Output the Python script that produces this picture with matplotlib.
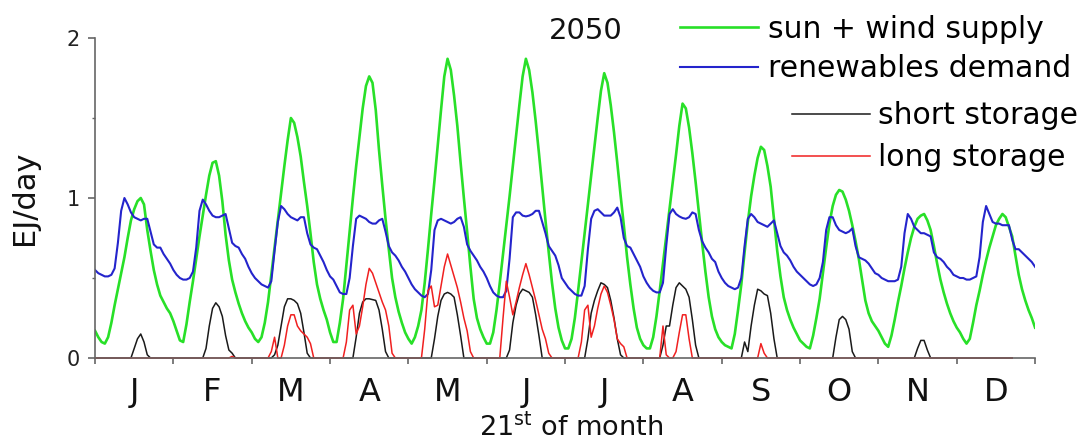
import numpy as np
import matplotlib.pyplot as plt

# 21st of each month, hourly values (EJ/day), 2050 scenario
months = ['J', 'F', 'M', 'A', 'M', 'J', 'J', 'A', 'S', 'O', 'N', 'D']

supply = [
    [0.17, 0.13, 0.10, 0.09, 0.13, 0.22, 0.33, 0.43, 0.53, 0.63, 0.75, 0.86, 0.93, 0.98, 1.00, 0.96, 0.80, 0.67, 0.55, 0.46, 0.39, 0.35, 0.31, 0.28],
    [0.23, 0.17, 0.11, 0.10, 0.21, 0.35, 0.48, 0.62, 0.76, 0.89, 1.02, 1.14, 1.22, 1.23, 1.14, 0.98, 0.77, 0.61, 0.49, 0.41, 0.34, 0.28, 0.23, 0.19],
    [0.16, 0.12, 0.10, 0.13, 0.22, 0.35, 0.52, 0.69, 0.86, 1.03, 1.20, 1.36, 1.50, 1.47, 1.38, 1.26, 1.10, 0.95, 0.78, 0.60, 0.46, 0.37, 0.30, 0.24],
    [0.16, 0.10, 0.10, 0.22, 0.37, 0.58, 0.79, 1.00, 1.20, 1.38, 1.56, 1.70, 1.76, 1.72, 1.55, 1.30, 1.08, 0.87, 0.68, 0.50, 0.38, 0.29, 0.22, 0.16],
    [0.12, 0.09, 0.13, 0.20, 0.30, 0.47, 0.68, 0.90, 1.11, 1.33, 1.55, 1.76, 1.87, 1.80, 1.64, 1.45, 1.22, 1.00, 0.79, 0.57, 0.37, 0.25, 0.18, 0.13],
    [0.09, 0.09, 0.16, 0.30, 0.47, 0.65, 0.83, 1.01, 1.20, 1.39, 1.58, 1.76, 1.87, 1.80, 1.66, 1.48, 1.28, 1.07, 0.86, 0.66, 0.47, 0.31, 0.19, 0.11],
    [0.06, 0.06, 0.12, 0.25, 0.42, 0.60, 0.78, 0.96, 1.14, 1.32, 1.50, 1.67, 1.78, 1.72, 1.58, 1.41, 1.22, 1.02, 0.83, 0.63, 0.46, 0.31, 0.19, 0.12],
    [0.08, 0.06, 0.06, 0.13, 0.26, 0.42, 0.59, 0.76, 0.93, 1.10, 1.27, 1.45, 1.59, 1.56, 1.44, 1.28, 1.10, 0.91, 0.72, 0.54, 0.38, 0.26, 0.18, 0.13],
    [0.10, 0.08, 0.07, 0.06, 0.15, 0.30, 0.46, 0.66, 0.85, 1.01, 1.14, 1.25, 1.32, 1.30, 1.20, 1.07, 0.87, 0.67, 0.51, 0.38, 0.30, 0.24, 0.19, 0.15],
    [0.11, 0.09, 0.07, 0.06, 0.14, 0.25, 0.37, 0.53, 0.69, 0.84, 0.95, 1.02, 1.05, 1.04, 0.99, 0.92, 0.83, 0.73, 0.62, 0.49, 0.36, 0.28, 0.23, 0.20],
    [0.17, 0.13, 0.09, 0.07, 0.14, 0.24, 0.35, 0.45, 0.56, 0.66, 0.75, 0.82, 0.87, 0.89, 0.90, 0.86, 0.80, 0.70, 0.59, 0.49, 0.41, 0.34, 0.28, 0.23],
    [0.19, 0.16, 0.12, 0.09, 0.12, 0.22, 0.33, 0.42, 0.52, 0.61, 0.69, 0.76, 0.83, 0.87, 0.90, 0.88, 0.82, 0.76, 0.64, 0.52, 0.43, 0.36, 0.30, 0.25],
]
supply_end = 0.19

demand = [
    [0.55, 0.53, 0.52, 0.51, 0.51, 0.52, 0.56, 0.72, 0.92, 1.00, 0.96, 0.91, 0.88, 0.87, 0.86, 0.87, 0.87, 0.79, 0.71, 0.69, 0.69, 0.65, 0.62, 0.59],
    [0.55, 0.52, 0.50, 0.49, 0.49, 0.50, 0.54, 0.69, 0.92, 0.99, 0.96, 0.92, 0.89, 0.88, 0.88, 0.89, 0.90, 0.81, 0.72, 0.70, 0.69, 0.65, 0.62, 0.57],
    [0.53, 0.50, 0.48, 0.46, 0.45, 0.44, 0.48, 0.67, 0.85, 0.95, 0.93, 0.90, 0.88, 0.87, 0.86, 0.88, 0.88, 0.78, 0.71, 0.69, 0.68, 0.64, 0.60, 0.55],
    [0.51, 0.49, 0.45, 0.41, 0.40, 0.40, 0.50, 0.70, 0.87, 0.89, 0.88, 0.87, 0.85, 0.84, 0.84, 0.86, 0.87, 0.79, 0.70, 0.66, 0.64, 0.61, 0.57, 0.54],
    [0.50, 0.46, 0.43, 0.41, 0.39, 0.38, 0.40, 0.55, 0.80, 0.86, 0.87, 0.86, 0.85, 0.84, 0.85, 0.87, 0.88, 0.82, 0.71, 0.67, 0.64, 0.61, 0.57, 0.54],
    [0.50, 0.45, 0.41, 0.39, 0.38, 0.38, 0.42, 0.62, 0.88, 0.91, 0.91, 0.89, 0.885, 0.89, 0.90, 0.92, 0.92, 0.85, 0.78, 0.70, 0.67, 0.64, 0.58, 0.50],
    [0.47, 0.44, 0.42, 0.40, 0.39, 0.39, 0.45, 0.68, 0.87, 0.92, 0.93, 0.91, 0.89, 0.89, 0.89, 0.91, 0.94, 0.88, 0.75, 0.70, 0.69, 0.65, 0.61, 0.57],
    [0.51, 0.47, 0.44, 0.42, 0.41, 0.41, 0.47, 0.70, 0.90, 0.93, 0.90, 0.885, 0.875, 0.87, 0.88, 0.91, 0.90, 0.80, 0.73, 0.69, 0.66, 0.62, 0.60, 0.54],
    [0.50, 0.47, 0.45, 0.44, 0.43, 0.44, 0.50, 0.70, 0.87, 0.90, 0.88, 0.85, 0.84, 0.83, 0.82, 0.84, 0.86, 0.78, 0.70, 0.66, 0.64, 0.61, 0.57, 0.54],
    [0.52, 0.50, 0.48, 0.46, 0.45, 0.46, 0.50, 0.60, 0.80, 0.88, 0.88, 0.83, 0.80, 0.79, 0.78, 0.79, 0.81, 0.70, 0.63, 0.62, 0.61, 0.59, 0.56, 0.53],
    [0.52, 0.50, 0.49, 0.48, 0.48, 0.48, 0.49, 0.57, 0.78, 0.90, 0.87, 0.82, 0.80, 0.78, 0.78, 0.77, 0.76, 0.66, 0.63, 0.62, 0.60, 0.57, 0.55, 0.52],
    [0.51, 0.50, 0.50, 0.49, 0.49, 0.50, 0.51, 0.63, 0.85, 0.95, 0.90, 0.85, 0.84, 0.84, 0.83, 0.83, 0.83, 0.74, 0.68, 0.68, 0.66, 0.64, 0.62, 0.60],
]
demand_end = 0.57

short_storage = [
    [0, 0, 0, 0, 0, 0, 0, 0, 0, 0, 0, 0, 0.06, 0.12, 0.15, 0.10, 0.02, 0, 0, 0, 0, 0, 0, 0],
    [0, 0, 0, 0, 0, 0, 0, 0, 0, 0, 0.06, 0.20, 0.31, 0.345, 0.32, 0.26, 0.14, 0.05, 0.03, 0, 0, 0, 0, 0],
    [0, 0, 0, 0, 0, 0, 0, 0.02, 0.08, 0.20, 0.32, 0.37, 0.37, 0.36, 0.34, 0.28, 0.16, 0.03, 0, 0, 0, 0, 0, 0],
    [0, 0, 0, 0, 0, 0, 0, 0, 0.13, 0.28, 0.35, 0.37, 0.37, 0.365, 0.36, 0.30, 0.18, 0.04, 0, 0, 0, 0, 0, 0],
    [0, 0, 0, 0, 0, 0, 0, 0, 0.12, 0.26, 0.36, 0.40, 0.41, 0.40, 0.38, 0.27, 0.14, 0, 0, 0, 0, 0, 0, 0],
    [0, 0, 0, 0, 0, 0, 0, 0.05, 0.22, 0.33, 0.40, 0.43, 0.42, 0.41, 0.38, 0.27, 0.14, 0, 0, 0, 0, 0, 0, 0],
    [0, 0, 0, 0, 0, 0, 0, 0.12, 0.28, 0.36, 0.42, 0.47, 0.46, 0.44, 0.36, 0.25, 0.12, 0.02, 0, 0, 0, 0, 0, 0],
    [0, 0, 0, 0, 0, 0, 0.08, 0.20, 0.20, 0.33, 0.44, 0.47, 0.45, 0.43, 0.38, 0.24, 0.08, 0, 0, 0, 0, 0, 0, 0],
    [0, 0, 0, 0, 0, 0, 0, 0.10, 0.04, 0.20, 0.33, 0.43, 0.42, 0.40, 0.39, 0.28, 0.12, 0, 0, 0, 0, 0, 0, 0],
    [0, 0, 0, 0, 0, 0, 0, 0, 0, 0, 0, 0.13, 0.24, 0.26, 0.24, 0.18, 0.04, 0, 0, 0, 0, 0, 0, 0],
    [0, 0, 0, 0, 0, 0, 0, 0, 0, 0, 0, 0, 0.06, 0.11, 0.11, 0.05, 0, 0, 0, 0, 0, 0, 0, 0],
    [0, 0, 0, 0, 0, 0, 0, 0, 0, 0, 0, 0, 0, 0, 0, 0, 0, 0, 0, 0, 0, 0, 0, 0],
]

long_storage = [
    [0, 0, 0, 0, 0, 0, 0, 0, 0, 0, 0, 0, 0, 0, 0, 0, 0, 0, 0, 0, 0, 0, 0, 0],
    [0, 0, 0, 0, 0, 0, 0, 0, 0, 0, 0, 0, 0, 0, 0, 0, 0, 0, 0.01, 0, 0, 0, 0, 0],
    [0, 0, 0, 0, 0, 0, 0.04, 0.13, 0, 0, 0.08, 0.20, 0.27, 0.27, 0.20, 0.17, 0.15, 0.13, 0.09, 0, 0, 0, 0, 0],
    [0, 0, 0, 0, 0, 0.10, 0.30, 0.33, 0.15, 0.20, 0.32, 0.46, 0.56, 0.53, 0.47, 0.41, 0.35, 0.30, 0.20, 0.03, 0, 0, 0, 0],
    [0, 0, 0, 0, 0, 0.18, 0.42, 0.45, 0.32, 0.33, 0.45, 0.57, 0.65, 0.58, 0.51, 0.44, 0.35, 0.25, 0.17, 0.04, 0, 0, 0, 0],
    [0, 0, 0, 0, 0, 0.25, 0.48, 0.38, 0.27, 0.35, 0.44, 0.52, 0.59, 0.52, 0.44, 0.36, 0.27, 0.18, 0.12, 0.03, 0, 0, 0, 0],
    [0, 0, 0, 0, 0, 0.10, 0.30, 0.33, 0.13, 0.20, 0.31, 0.40, 0.45, 0.41, 0.33, 0.24, 0.12, 0.09, 0.07, 0, 0, 0, 0, 0],
    [0, 0, 0, 0, 0, 0, 0.20, 0.02, 0, 0, 0.04, 0.16, 0.27, 0.27, 0.12, 0, 0, 0, 0, 0, 0, 0, 0, 0],
    [0, 0, 0, 0, 0, 0, 0, 0, 0, 0, 0, 0, 0.09, 0.03, 0, 0, 0, 0, 0, 0, 0, 0, 0, 0],
    [0, 0, 0, 0, 0, 0, 0, 0, 0, 0, 0, 0, 0, 0, 0, 0, 0, 0, 0, 0, 0, 0, 0, 0],
    [0, 0, 0, 0, 0, 0, 0, 0, 0, 0, 0, 0, 0, 0, 0, 0, 0, 0, 0, 0, 0, 0, 0, 0],
    [0, 0, 0, 0, 0, 0, 0, 0, 0, 0, 0, 0, 0, 0, 0, 0, 0, 0, 0, 0, 0, 0, 0, 0],
]
storage_last_hour = 17  # storage traces stop in the afternoon of 21 Dec

hours = 24
n_months = len(months)

# x in months: each month holds one day of hourly values
x_full = np.arange(n_months * hours + 1) / hours
supply_vals = np.append(np.concatenate(supply), supply_end)
demand_vals = np.append(np.concatenate(demand), demand_end)
n_store = (n_months - 1) * hours + storage_last_hour + 1
short_vals = np.concatenate(short_storage)[:n_store]
long_vals = np.concatenate(long_storage)[:n_store]

fig = plt.figure(figsize=(10.9, 4.45), dpi=100)
ax = fig.add_axes([0.0872, 0.1955, 0.8624, 0.7191])

green = '#28e028'
blue = '#2424cc'
red = '#f02020'
black = '#1a1a1a'
axis_grey = '#666666'

l_sup, = ax.plot(x_full, supply_vals, color=green, lw=1.9, label='sun + wind supply')
l_dem, = ax.plot(x_full, demand_vals, color=blue, lw=1.5, label='renewables demand')
l_short, = ax.plot(x_full[:n_store], short_vals, color=black, lw=1.1,
                   label='short storage', clip_on=False)
l_long, = ax.plot(x_full[:n_store], long_vals, color=red, lw=1.1,
                  label='long storage', clip_on=False)

ax.set_xlim(0, n_months)
ax.set_ylim(0, 2)

for side in ['top', 'right']:
    ax.spines[side].set_visible(False)
for side in ['left', 'bottom']:
    ax.spines[side].set_color(axis_grey)
    ax.spines[side].set_linewidth(1.2)

# month boundaries as ticks, month initials centred between them
ax.set_xticks(np.arange(n_months + 1))
ax.set_xticklabels([])
ax.set_xticks(np.arange(n_months) + 0.5, minor=True)
ax.set_xticklabels(months, minor=True)
ax.tick_params(axis='x', which='major', direction='out', length=4, width=1.2, color=axis_grey)
ax.tick_params(axis='x', which='minor', length=0, pad=14, labelsize=23, labelcolor='#111111')

ax.set_yticks([0, 1, 2])
ax.set_yticks([0.5, 1.5], minor=True)
ax.tick_params(axis='y', which='major', direction='out', length=5, width=1.2,
               color=axis_grey, labelsize=15, pad=6, labelcolor='#222222')
ax.tick_params(axis='y', which='minor', direction='out', length=2.5, width=1.0, color=axis_grey)

ax.set_ylabel('EJ/day', fontsize=22, labelpad=20, color='#111111')
ax.set_xlabel(r'21$^{\mathrm{st}}$ of month', fontsize=19.5, color='#111111')
ax.xaxis.set_label_coords(0.506, -0.172)

ax.text(0.522, 1.022, '2050', transform=ax.transAxes, fontsize=21,
        ha='center', va='center', color='#111111')

leg1 = ax.legend([l_sup, l_dem], ['sun + wind supply', 'renewables demand'],
                 loc='upper left', bbox_to_anchor=(0.6239, 0.967),
                 bbox_transform=fig.transFigure, frameon=False, fontsize=21.5,
                 handlelength=2.61, handletextpad=0.33, labelspacing=0.36,
                 borderpad=0, borderaxespad=0)
ax.add_artist(leg1)
ax.legend([l_short, l_long], ['short storage', 'long storage'],
          loc='upper left', bbox_to_anchor=(0.7266, 0.772),
          bbox_transform=fig.transFigure, frameon=False, fontsize=21.5,
          handlelength=2.61, handletextpad=0.27, labelspacing=0.42,
          borderpad=0, borderaxespad=0)

fig.savefig('out.png', dpi=100)
